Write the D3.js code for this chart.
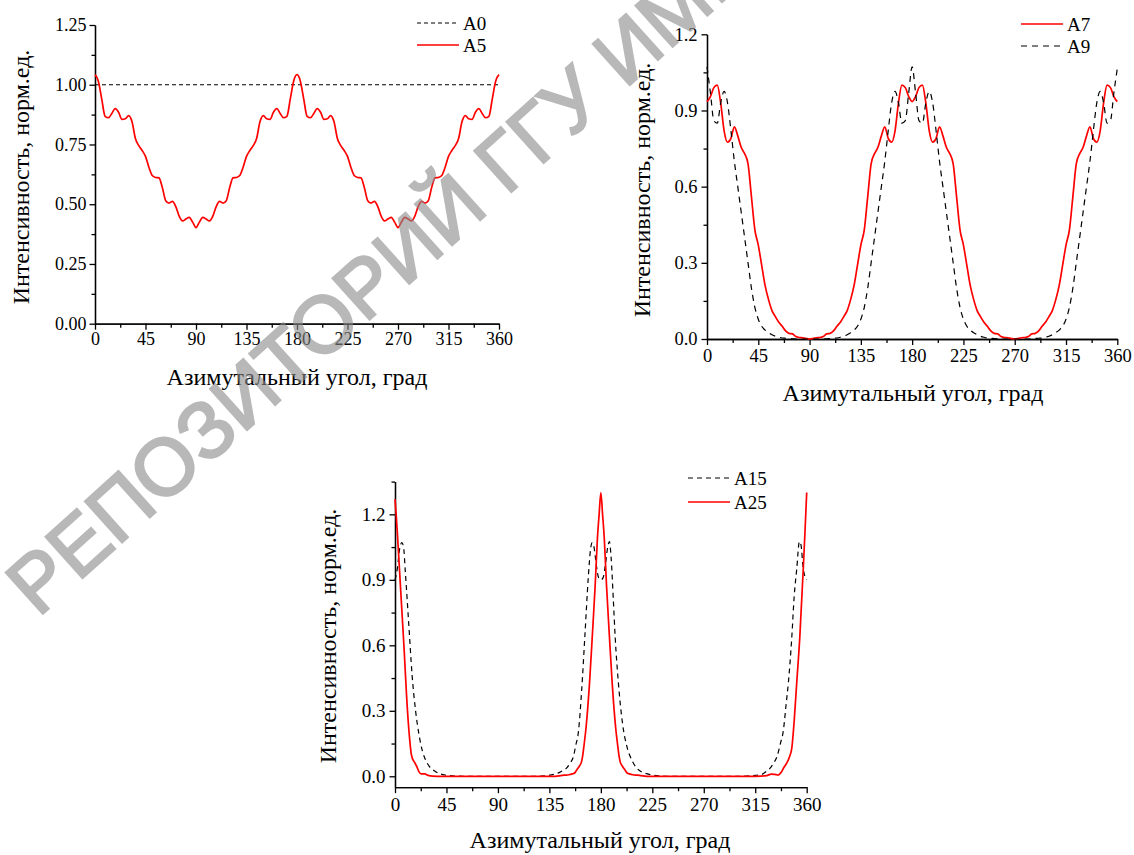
<!doctype html>
<html>
<head>
<meta charset="utf-8">
<script src="https://d3js.org/d3.v7.min.js"></script>
<style>
  body { margin: 0; background: #fff; }
  svg text { font-family: "Liberation Serif", "Times New Roman", serif; fill: #000; }
  svg text.wm { font-family: "Liberation Sans", Arial, sans-serif; fill: #8a8a8a; stroke: #8a8a8a; }
</style>
</head>
<body>
<svg id="chart" width="1134" height="855"></svg>
<script>
// sample grid used by the top two panels (deg)
const grid3 = d3.range(0, 361, 3);

const xTicks = [0, 45, 90, 135, 180, 225, 270, 315, 360];
const xMinor = [22.5, 67.5, 112.5, 157.5, 202.5, 247.5, 292.5, 337.5];

// panel 1: A0, A5
const a0Angles = [0, 360];
const a0Values = [1, 1];
const a5Values = [
  1.042, 1.015, 0.94, 0.868, 0.862, 0.88, 0.90, 0.885, 0.855, 0.858, 0.871,
  0.845, 0.775, 0.745, 0.725, 0.70, 0.655, 0.62, 0.612, 0.61, 0.57,
  0.515, 0.505, 0.512, 0.49, 0.45, 0.43, 0.438, 0.445, 0.425, 0.402,
  0.425, 0.445, 0.438, 0.43, 0.45, 0.49, 0.512, 0.505, 0.515, 0.57,
  0.61, 0.612, 0.62, 0.655, 0.70, 0.725, 0.745, 0.775, 0.845, 0.871,
  0.858, 0.855, 0.885, 0.90, 0.88, 0.862, 0.868, 0.94, 1.015, 1.042,
  1.015, 0.94, 0.868, 0.862, 0.88, 0.90, 0.885, 0.855, 0.858, 0.871,
  0.845, 0.775, 0.745, 0.725, 0.70, 0.655, 0.62, 0.612, 0.61, 0.57,
  0.515, 0.505, 0.512, 0.49, 0.45, 0.43, 0.438, 0.445, 0.425, 0.402,
  0.425, 0.445, 0.438, 0.43, 0.45, 0.49, 0.512, 0.505, 0.515, 0.57,
  0.61, 0.612, 0.62, 0.655, 0.70, 0.725, 0.745, 0.775, 0.845, 0.871,
  0.858, 0.855, 0.885, 0.90, 0.88, 0.862, 0.868, 0.94, 1.015, 1.042
];

// panel 2: A7, A9
const a7Values = [
  0.935, 0.955, 0.99, 1.0, 0.93, 0.82, 0.775, 0.79, 0.836, 0.80, 0.755,
  0.73, 0.69, 0.56, 0.43, 0.37, 0.29, 0.21, 0.155, 0.112, 0.088,
  0.066, 0.05, 0.032, 0.022, 0.02, 0.01, 0.006, 0.005, 0.002, 0.0,
  0.002, 0.005, 0.006, 0.01, 0.02, 0.022, 0.032, 0.05, 0.066, 0.088,
  0.112, 0.155, 0.21, 0.29, 0.37, 0.43, 0.56, 0.69, 0.73, 0.755,
  0.80, 0.836, 0.79, 0.775, 0.82, 0.93, 1.0, 0.99, 0.955, 0.935,
  0.955, 0.99, 1.0, 0.93, 0.82, 0.775, 0.79, 0.836, 0.80, 0.755,
  0.73, 0.69, 0.56, 0.43, 0.37, 0.29, 0.21, 0.155, 0.112, 0.088,
  0.066, 0.05, 0.032, 0.022, 0.02, 0.01, 0.006, 0.005, 0.002, 0.0,
  0.002, 0.005, 0.006, 0.01, 0.02, 0.022, 0.032, 0.05, 0.066, 0.088,
  0.112, 0.155, 0.21, 0.29, 0.37, 0.43, 0.56, 0.69, 0.73, 0.755,
  0.80, 0.836, 0.79, 0.775, 0.82, 0.93, 1.0, 0.99, 0.955, 0.935
];
const a9Values = [
  1.072, 0.97, 0.86, 0.85, 0.93, 0.975, 0.93, 0.82, 0.70, 0.60, 0.50,
  0.40, 0.30, 0.20, 0.125, 0.078, 0.05, 0.035, 0.025, 0.017, 0.011,
  0.007, 0.004, 0.003, 0.002, 0.001, 0.0, 0.0, 0.0, 0.0, 0.0,
  0.0, 0.0, 0.0, 0.0, 0.001, 0.002, 0.003, 0.004, 0.007, 0.011,
  0.017, 0.025, 0.035, 0.05, 0.078, 0.125, 0.20, 0.30, 0.40, 0.50,
  0.60, 0.70, 0.82, 0.93, 0.975, 0.93, 0.85, 0.86, 0.97, 1.072,
  0.97, 0.86, 0.85, 0.93, 0.975, 0.93, 0.82, 0.70, 0.60, 0.50,
  0.40, 0.30, 0.20, 0.125, 0.078, 0.05, 0.035, 0.025, 0.017, 0.011,
  0.007, 0.004, 0.003, 0.002, 0.001, 0.0, 0.0, 0.0, 0.0, 0.0,
  0.0, 0.0, 0.0, 0.0, 0.001, 0.002, 0.003, 0.004, 0.007, 0.011,
  0.017, 0.025, 0.035, 0.05, 0.078, 0.125, 0.20, 0.30, 0.40, 0.50,
  0.60, 0.70, 0.82, 0.93, 0.975, 0.93, 0.85, 0.86, 0.97, 1.065
];

// panel 3: A15, A25 (denser near the peaks)
const a15Angles = [0, 2, 4, 6, 7.5, 9, 12, 15, 18, 21, 24, 27, 30, 34, 39, 45, 50, 60, 90, 120,
  130, 135, 140, 144, 147, 150, 153, 156, 158, 160.3, 163.3, 166, 169, 171, 172.5,
  174, 176, 178, 180, 182, 184, 186, 187.5, 189, 191, 192.5, 195.3, 199, 202.6, 207,
  211, 215, 220, 225, 232, 240, 270, 300, 310, 315, 320.6, 324, 328, 331, 334,
  337, 339.6, 342, 344, 347, 349, 351.3, 353.6, 355, 357, 360];
const a15Values = [0.90, 0.95, 1.04, 1.07, 1.05, 0.94, 0.70, 0.46, 0.30, 0.19, 0.115, 0.072, 0.045, 0.027, 0.012, 0.005, 0.002, 0, 0, 0,
  0.002, 0.005, 0.01, 0.018, 0.027, 0.037, 0.06, 0.09, 0.14, 0.20, 0.40, 0.64, 0.91, 1.04, 1.07,
  1.05, 0.97, 0.91, 0.90, 0.91, 0.97, 1.05, 1.075, 1.0, 0.80, 0.64, 0.43, 0.24, 0.14, 0.075,
  0.04, 0.022, 0.012, 0.006, 0.002, 0, 0, 0, 0.002, 0.004, 0.008, 0.02, 0.037, 0.06, 0.09,
  0.15, 0.21, 0.33, 0.43, 0.64, 0.82, 0.95, 1.075, 1.06, 0.95, 0.90];

const a25Angles = [0, 1, 2, 3, 4, 6, 8, 10, 12, 13, 14, 15, 17, 19, 21, 23, 26, 29, 33, 40,
  60, 90, 120, 140, 145, 148, 152, 155, 157, 159, 161, 163, 164, 165, 167, 170, 172.5, 175, 177, 178.5,
  180, 181.5, 183, 185, 187.5, 190, 193, 195, 196, 197, 199, 201, 203, 205, 208, 212, 215, 220, 250, 280,
  310, 320, 325, 329, 332, 335, 338, 340, 342.5, 345, 347, 349, 351.3, 354, 357, 358.5, 360];
const a25Values = [1.27, 1.20, 1.12, 1.03, 0.94, 0.76, 0.58, 0.38, 0.22, 0.16, 0.11, 0.085, 0.065, 0.045, 0.02, 0.011, 0.011, 0.004, 0.001, 0,
  0, 0, 0, 0, 0.003, 0.005, 0.007, 0.011, 0.015, 0.03, 0.045, 0.065, 0.09, 0.13, 0.22, 0.42, 0.64, 0.87, 1.09, 1.20,
  1.30, 1.20, 1.09, 0.87, 0.64, 0.42, 0.22, 0.13, 0.09, 0.065, 0.045, 0.03, 0.015, 0.011, 0.007, 0.005, 0.003, 0, 0, 0,
  0, 0.001, 0.003, 0.01, 0.009, 0.006, 0.021, 0.04, 0.06, 0.09, 0.13, 0.25, 0.43, 0.64, 0.95, 1.12, 1.30];

const xTitle = "Азимутальный угол, град";
const yTitle = "Интенсивность, норм.ед.";
const watermark = "РЕПОЗИТОРИЙ ГГУ ИМЕНИ Ф. СКОРИНЫ";

const serif = "'Liberation Serif', 'Times New Roman', serif";
const svg = d3.select("#chart");

function zip(a, v) { return a.map((d, i) => [d, v[i]]); }

function drawPanel(p) {
  const x = d3.scaleLinear().domain([0, 360]).range([p.left, p.right]);
  const y = d3.scaleLinear().domain(p.yDomain).range([p.bottom, p.top]);
  const g = svg.append("g").attr("font-family", serif);

  // minor ticks first, majors with labels on top
  g.append("g").attr("transform", "translate(0," + p.bottom + ")")
    .call(d3.axisBottom(x).tickValues(xMinor).tickSize(4).tickSizeOuter(0).tickFormat(""));
  g.append("g").attr("transform", "translate(" + p.left + ",0)")
    .call(d3.axisLeft(y).tickValues(p.yMinor).tickSize(3.5).tickSizeOuter(0).tickFormat(""));

  const xa = g.append("g").attr("transform", "translate(0," + p.bottom + ")")
    .call(d3.axisBottom(x).tickValues(xTicks).tickSize(6).tickSizeOuter(0).tickPadding(p.xPad));
  const ya = g.append("g").attr("transform", "translate(" + p.left + ",0)")
    .call(d3.axisLeft(y).tickValues(p.yTicks).tickSize(5.5).tickSizeOuter(0).tickPadding(p.yPad)
      .tickFormat(d3.format(p.yFmt)));

  g.selectAll(".domain, .tick line").attr("stroke", "#000").attr("stroke-width", 1.3);
  [xa, ya].forEach(a => a.attr("font-family", serif).attr("font-size", p.tickFont));

  g.append("text").attr("x", p.xTitle[0]).attr("y", p.xTitle[1])
    .attr("text-anchor", "middle").attr("dominant-baseline", "central")
    .attr("font-size", p.titleFont).text(xTitle);
  g.append("text").attr("transform", "translate(" + p.yTitle[0] + "," + p.yTitle[1] + ") rotate(-90)")
    .attr("text-anchor", "middle").attr("dominant-baseline", "central")
    .attr("font-size", p.titleFont).text(yTitle);

  const line = d3.line().x(d => x(d[0])).y(d => y(d[1])).curve(d3.curveMonotoneX);

  p.series.forEach((s, i) => {
    const attrs = s.red ? { stroke: "#ff0000", w: 1.7, dash: null }
                        : { stroke: "#000", w: 1.2, dash: p.dash };
    g.append("path").datum(zip(s.angles, s.values))
      .attr("fill", "none").attr("stroke", attrs.stroke).attr("stroke-width", attrs.w)
      .attr("stroke-dasharray", attrs.dash).attr("d", line);

    const ly = p.legend[1] + i * p.legendGap;
    g.append("line").attr("x1", p.legend[0]).attr("x2", p.legend[0] + 42)
      .attr("y1", ly).attr("y2", ly)
      .attr("stroke", attrs.stroke).attr("stroke-width", attrs.w).attr("stroke-dasharray", attrs.dash);
    g.append("text").attr("x", p.legend[0] + 46).attr("y", ly)
      .attr("dominant-baseline", "central").attr("font-size", 19).text(s.name);
  });
}

drawPanel({
  left: 95, right: 499, top: 25, bottom: 323.7, yDomain: [0, 1.25],
  yTicks: [0, 0.25, 0.5, 0.75, 1.0, 1.25], yMinor: [0.125, 0.375, 0.625, 0.875, 1.125], yFmt: ".2f",
  tickFont: 18, titleFont: 24, xPad: 3, yPad: 3,
  xTitle: [297, 377], yTitle: [21, 177], legend: [417, 23], legendGap: 22, dash: "4,3",
  series: [
    { name: "A0", angles: a0Angles, values: a0Values, red: false },
    { name: "A5", angles: grid3, values: a5Values, red: true }
  ]
});

drawPanel({
  left: 707, right: 1117.3, top: 34.3, bottom: 339, yDomain: [0, 1.2],
  yTicks: [0, 0.3, 0.6, 0.9, 1.2], yMinor: [0.15, 0.45, 0.75, 1.05], yFmt: ".1f",
  tickFont: 18.5, titleFont: 24, xPad: 4, yPad: 4,
  xTitle: [913, 393], yTitle: [642, 190], legend: [1021, 24], legendGap: 22, dash: "6,5",
  series: [
    { name: "A7", angles: grid3, values: a7Values, red: true },
    { name: "A9", angles: grid3, values: a9Values, red: false }
  ]
});

drawPanel({
  left: 395, right: 806.7, top: 481.6, bottom: 787.2, yDomain: [-0.05, 1.35],
  yTicks: [0, 0.3, 0.6, 0.9, 1.2], yMinor: [0.15, 0.45, 0.75, 1.05, 1.35], yFmt: ".1f",
  tickFont: 19, titleFont: 24, xPad: 4, yPad: 4,
  xTitle: [600, 840], yTitle: [328, 636], legend: [688, 478], legendGap: 24, dash: "5,4",
  series: [
    { name: "A15", angles: a15Angles, values: a15Values, red: false },
    { name: "A25", angles: a25Angles, values: a25Values, red: true }
  ]
});

// repository watermark across the page
svg.append("text").attr("class", "wm")
  .attr("transform", "translate(38,618) rotate(-42)")
  .attr("font-size", 80).attr("stroke-width", 2.5).attr("opacity", 0.6)
  .text(watermark);
</script>
</body>
</html>
